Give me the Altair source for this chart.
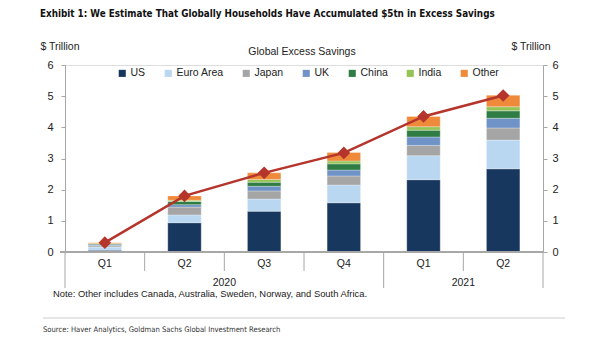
import altair as alt
import pandas as pd

# ---- data ----
quarters = ["Q1", "Q2", "Q3", "Q4", "Q1", "Q2"]
years = ["2020", "2020", "2020", "2020", "2021", "2021"]
regions = ["US", "Euro Area", "Japan", "UK", "China", "India", "Other"]
us = [0.06, 0.94, 1.31, 1.58, 2.32, 2.67]
euro = [0.10, 0.25, 0.39, 0.57, 0.77, 0.92]
japan = [0.04, 0.25, 0.26, 0.29, 0.33, 0.39]
uk = [0.03, 0.08, 0.15, 0.19, 0.27, 0.31]
china = [0.03, 0.10, 0.13, 0.20, 0.22, 0.24]
india = [0.01, 0.04, 0.09, 0.09, 0.11, 0.13]
other = [0.03, 0.14, 0.21, 0.27, 0.33, 0.37]
total = [0.30, 1.80, 2.54, 3.18, 4.35, 5.02]
colors = ["#17375e", "#b9d7f1", "#a5a5a5", "#6f93c6", "#2f7d45", "#94c356", "#ee8a3a"]

series = [us, euro, japan, uk, china, india, other]
rows = []
for r_i, (name, vals) in enumerate(zip(regions, series)):
    for i, v in enumerate(vals):
        rows.append({"idx": i, "region": name, "order": r_i, "value": v})
bars_df = pd.DataFrame(rows)

line_df = pd.DataFrame({"idx": list(range(len(total))), "total": total,
                        "q": quarters, "year": years})

# year groups and slot boundaries derived from the category lists
year_rows = []
for y in sorted(set(years)):
    ids = [i for i, yy in enumerate(years) if yy == y]
    year_rows.append({"year": y, "start": min(ids), "end": max(ids) + 1})
year_df = pd.DataFrame(year_rows)
year_starts = set(year_df["start"]) | {len(years)}
bound_df = pd.DataFrame({"b": list(range(len(years) + 1))})
bound_df["long"] = bound_df["b"].isin(year_starts)

W, H = 478, 187
FONT = "Liberation Sans"
NARROW = "DejaVu Sans Condensed, Liberation Sans Narrow, Liberation Sans"
AXC = "#a6a6a6"
FS = 10.5
xs = alt.Scale(domain=[0, len(quarters)], nice=False, zero=False)
ys = alt.Scale(domain=[0, 6], nice=False)

bars = alt.Chart(bars_df).transform_stack(
    stack="value", groupby=["idx"], as_=["y0", "y1"],
    sort=[alt.SortField("order", order="ascending")]
).transform_calculate(
    xa="datum.idx + 0.29", xb="datum.idx + 0.71"
).mark_bar(stroke="white", strokeWidth=0.3).encode(
    x=alt.X("xa:Q", scale=xs, axis=None),
    x2="xb:Q",
    y=alt.Y("y0:Q", scale=ys, axis=alt.Axis(
        orient="left", values=[0, 1, 2, 3, 4, 5, 6], grid=False, title=None,
        domainColor=AXC, tickColor=AXC, tickSize=4, labelPadding=8,
        labelFont=FONT, labelFontSize=FS + 0.5, labelColor="#222")),
    y2="y1:Q",
    color=alt.Color("region:N", scale=alt.Scale(domain=regions, range=colors),
                    legend=alt.Legend(
                        orient="none", legendX=52, legendY=3, direction="horizontal",
                        title=None, symbolType="square", symbolSize=50,
                        symbolStrokeWidth=0, labelFont=FONT, labelFontSize=FS,
                        labelColor="#222", columnPadding=17, labelOffset=3)),
)

line_base = alt.Chart(line_df).transform_calculate(xm="datum.idx + 0.5")
line = line_base.mark_line(color="#b5352c", strokeWidth=2.5).encode(
    x=alt.X("xm:Q", scale=xs, axis=None),
    y=alt.Y("total:Q", scale=ys, axis=alt.Axis(
        orient="right", values=[0, 1, 2, 3, 4, 5, 6], grid=False, title=None,
        domainColor=AXC, tickColor=AXC, tickSize=4, labelPadding=5,
        labelFont=FONT, labelFontSize=FS + 0.5, labelColor="#222")),
)
points = line_base.mark_point(shape="diamond", filled=True, size=160,
                              color="#b5352c", opacity=1).encode(
    x=alt.X("xm:Q", scale=xs, axis=None),
    y=alt.Y("total:Q", scale=ys, axis=None),
)

qlabels = line_base.mark_text(font=FONT, fontSize=FS, color="#222",
                              baseline="middle").encode(
    x=alt.X("xm:Q", scale=xs, axis=None), y=alt.value(H + 12), text="q:N")

baseline = alt.Chart(line_df).mark_rule(color=AXC, strokeWidth=1).encode(
    x=alt.value(-5), x2=alt.value(W), y=alt.value(H))

short_b = alt.Chart(bound_df[~bound_df["long"]]).mark_rule(color=AXC).encode(
    x=alt.X("b:Q", scale=xs, axis=None), y=alt.value(H), y2=alt.value(H + 19))
long_b = alt.Chart(bound_df[bound_df["long"]]).mark_rule(color=AXC).encode(
    x=alt.X("b:Q", scale=xs, axis=None), y=alt.value(H), y2=alt.value(H + 36))

ylabels = alt.Chart(year_df).transform_calculate(
    ym="(datum.start + datum.end) / 2"
).mark_text(font=FONT, fontSize=FS, color="#222", baseline="middle").encode(
    x=alt.X("ym:Q", scale=xs, axis=None), y=alt.value(H + 31), text="year:N")


def label(text, x, y, align="left", font=FONT, size=FS, weight="normal", color="#222"):
    return alt.Chart(pd.DataFrame({"t": [text]})).mark_text(
        align=align, baseline="middle", font=font, fontSize=size,
        fontWeight=weight, color=color).encode(
        text="t:N", x=alt.value(x), y=alt.value(y))


title = label("Exhibit 1: We Estimate That Globally Households Have Accumulated $5tn in Excess Savings",
              -25, -51, font=NARROW, size=9.8, weight="bold", color="#111")
lt = label("$ Trillion", -5, -18, align="center")
rt = label("$ Trillion", 466, -18, align="center")
ct = label("Global Excess Savings", 237, -13, align="center")
note = label("Note: Other includes Canada, Australia, Sweden, Norway, and South Africa.",
             -12, 229, size=9.4)
sep = alt.Chart(pd.DataFrame({"a": [0]})).mark_rule(color="#cccccc").encode(
    x=alt.value(-22), x2=alt.value(500), y=alt.value(253))
src = label("Source: Haver Analytics, Goldman Sachs Global Investment Research",
            -22, 265, font=NARROW, size=7.6, color="#333")

chart = alt.layer(
    bars, line, points, baseline, short_b, long_b, qlabels, ylabels,
    title, lt, rt, ct, note, sep, src
).resolve_scale(y="independent").properties(
    width=W, height=H,
    padding={"left": 65, "top": 65, "right": 62, "bottom": 89},
    autosize=alt.AutoSizeParams(type="none"),
).configure_view(stroke=None).configure(background="white")

chart.save("out.html", embed_options={"renderer": "svg", "actions": False})
